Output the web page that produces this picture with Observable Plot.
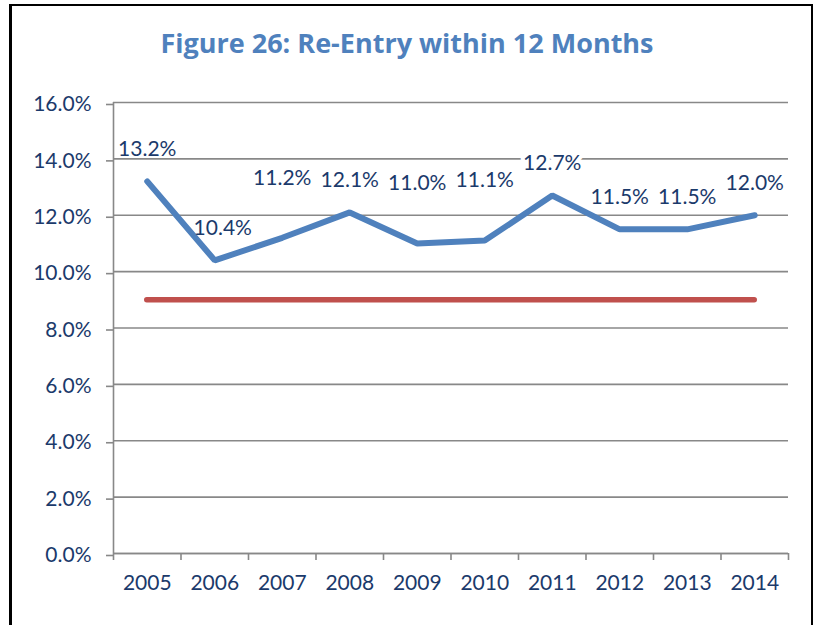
<!DOCTYPE html>
<html>
<head>
<meta charset="utf-8">
<script src="https://cdn.jsdelivr.net/npm/d3@7"></script>
<script src="https://cdn.jsdelivr.net/npm/@observablehq/plot@0.6"></script>
<style>
  html, body { margin: 0; padding: 0; background: #fff; }
  #wrap { position: relative; width: 814px; height: 625px; overflow: hidden; background: #fff; font-family: Lato, sans-serif; }
  #frame { position: absolute; left: 9px; top: 4px; width: 799px; height: 700px;
           border-left: 3px solid #000; border-top: 2px solid #000; border-right: 2px solid #000; }
  #title { position: absolute; left: 0; top: 29px; width: 814px; text-align: center; line-height: 27px;
           font-family: "Open Sans", sans-serif; font-weight: bold; font-size: 27px; color: #4F81BD; }
  #chart { position: absolute; left: 0; top: 80px; }
</style>
</head>
<body>
<div id="wrap">
  <div id="frame"></div>
  <div id="title">Figure 26: Re-Entry within 12 Months</div>
  <div id="chart"></div>
</div>
<script>
const years = [2005, 2006, 2007, 2008, 2009, 2010, 2011, 2012, 2013, 2014];
const rates = [13.2, 10.4, 11.2, 12.1, 11.0, 11.1, 12.7, 11.5, 11.5, 12.0];
const target = 9.0;
const yTicks = [0, 2, 4, 6, 8, 10, 12, 14, 16];
const raisedLabels = [2007, 2009, 2010];

const data = years.map((year, i) => ({year, rate: rates[i]}));
const bounds = [years[0] - 0.5, ...years.map(y => y + 0.5)];
const fmt = d => d.toFixed(1) + "%";
const navy = "#1B3A6B";
const gray = "#888888";
const isRaised = d => raisedLabels.includes(d.year);

const chart = Plot.plot({
  width: 814,
  height: 545,
  marginTop: 22,
  marginBottom: 72,
  marginLeft: 113,
  marginRight: 26,
  style: {fontFamily: "Lato, sans-serif", fontSize: "21px", background: "transparent"},
  x: {type: "linear", domain: [bounds[0], bounds[bounds.length - 1]], label: null},
  y: {domain: [0, 16], label: null},
  marks: [
    Plot.gridY(yTicks, {stroke: gray, strokeOpacity: 1, strokeWidth: 1.6}),
    Plot.ruleX([bounds[0]], {y1: 0, y2: 16, stroke: gray, strokeWidth: 1.6}),
    Plot.axisY({ticks: yTicks, tickSize: 7, tickPadding: 15, tickFormat: fmt, fontSize: 21, label: null,
                stroke: gray, strokeWidth: 1.6, fill: navy, dy: 2}),
    Plot.axisX({ticks: bounds, tickSize: 7, tickFormat: () => "", label: null, stroke: gray, strokeWidth: 1.6}),
    Plot.axisX({ticks: years, tickSize: 0, tickPadding: 22, tickFormat: d => String(d), label: null, fontSize: 21, fill: navy}),
    Plot.ruleY([0], {stroke: gray, strokeWidth: 1.6}),
    Plot.ruleY([target], {x1: years[0], x2: years[years.length - 1], stroke: "#C0504D", strokeWidth: 5.5, strokeLinecap: "round"}),
    Plot.line(data, {x: "year", y: "rate", stroke: "#4F81BD", strokeWidth: 6, strokeLinejoin: "miter", strokeLinecap: "round"}),
    Plot.text(data.filter(d => !isRaised(d) && d.year !== 2006 && d.year !== 2011),
      {x: "year", y: "rate", text: d => fmt(d.rate), dy: -32, fill: navy, fontSize: 21}),
    Plot.text(data.filter(d => d.year === 2011),
      {x: "year", y: "rate", text: d => fmt(d.rate), dy: -32, fill: navy, fontSize: 21,
       stroke: "white", strokeWidth: 8, paintOrder: "stroke"}),
    Plot.text(data.filter(d => d.year === 2006),
      {x: "year", y: "rate", text: d => fmt(d.rate), dy: -32, dx: 8, fill: navy, fontSize: 21}),
    Plot.text(data.filter(isRaised),
      {x: "year", y: "rate", text: d => fmt(d.rate), dy: -60, fill: navy, fontSize: 21})
  ]
});
document.getElementById("chart").appendChild(chart);
</script>
</body>
</html>
